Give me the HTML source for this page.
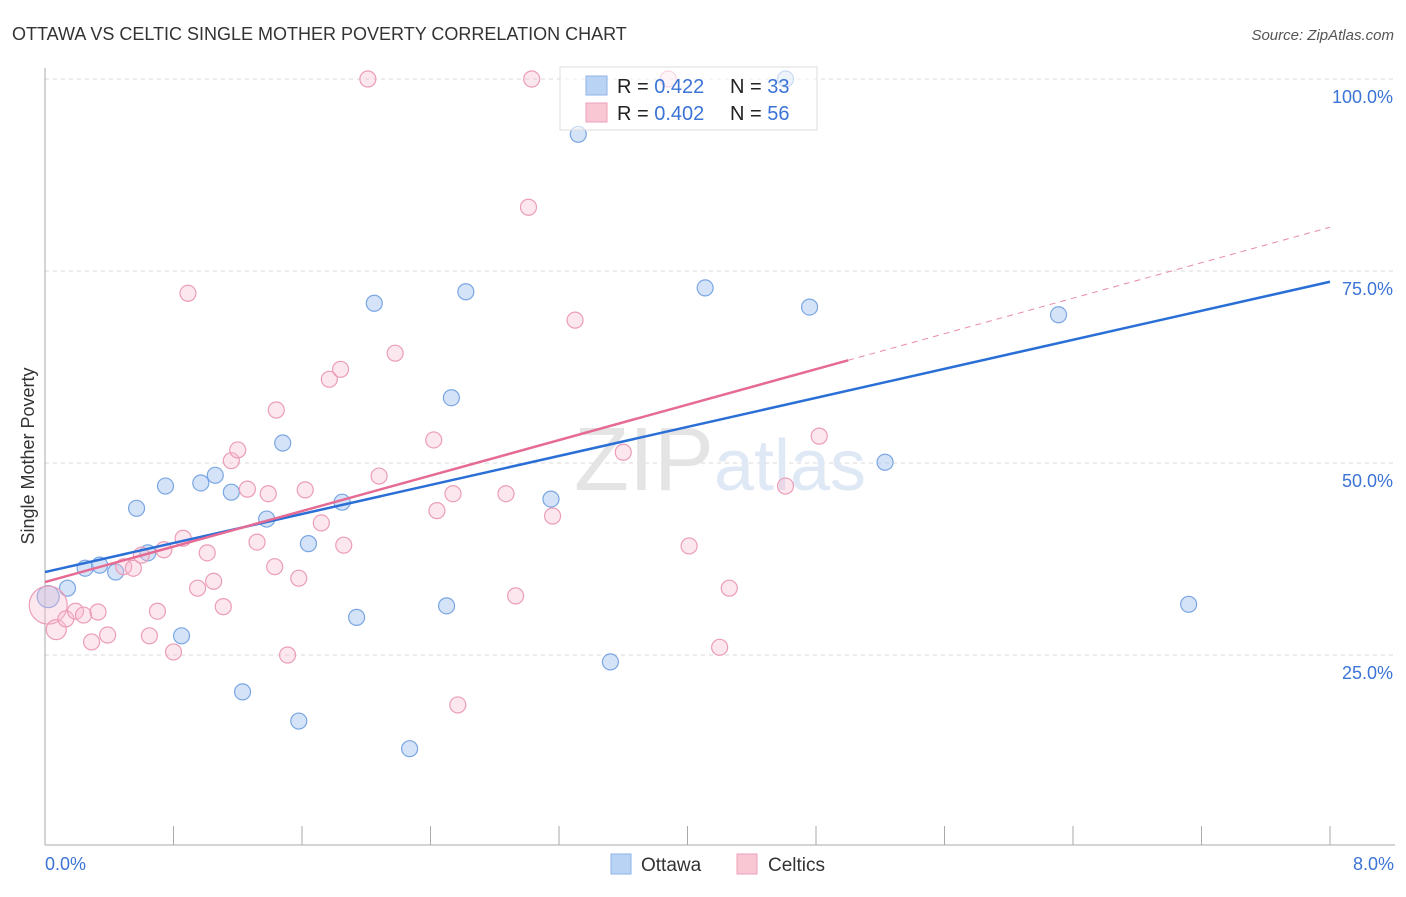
<!DOCTYPE html>
<html><head><meta charset="utf-8"><style>
body{margin:0;background:#fff;font-family:"Liberation Sans",sans-serif}
svg text{font-family:"Liberation Sans",sans-serif}
</style></head><body>
<svg width="1406" height="892" viewBox="0 0 1406 892">
<text x="12" y="40" font-size="18" fill="#333">OTTAWA VS CELTIC SINGLE MOTHER POVERTY CORRELATION CHART</text>
<text x="1394" y="40" font-size="15" fill="#555" font-style="italic" text-anchor="end">Source: ZipAtlas.com</text>
<g id="grid"></g>
<text x="720" y="490" font-size="90" fill="#e8e8e8" text-anchor="middle" font-family="Liberation Serif"><tspan fill="#e4e4e4">ZIP</tspan><tspan fill="#dfe8f5" font-family="Liberation Sans" font-size="72">atlas</tspan></text>
<g id="axes"></g>
<g id="pts"></g>
<g id="lines"></g>
<text transform="translate(34,456) rotate(-90)" font-size="18" fill="#333" text-anchor="middle">Single Mother Poverty</text>
<text x="45" y="870" font-size="18" fill="#3b74d6">0.0%</text>
<text x="1394" y="870" font-size="18" fill="#3b74d6" text-anchor="end">8.0%</text>
<g>
<rect x="560" y="67" width="257" height="63" fill="#fff" fill-opacity="0.6" stroke="#ddd"/>
<rect x="586" y="76" width="21" height="19" fill="#b9d3f5" stroke="#8fb3e6"/>
<rect x="586" y="103" width="21" height="19" fill="#f9c6d4" stroke="#eda0b8"/>
<text x="617" y="93" font-size="20" fill="#222">R = <tspan fill="#3b74d6">0.422</tspan></text>
<text x="730" y="93" font-size="20" fill="#222">N = <tspan fill="#3b74d6">33</tspan></text>
<text x="617" y="120" font-size="20" fill="#222">R = <tspan fill="#3b74d6">0.402</tspan></text>
<text x="730" y="120" font-size="20" fill="#222">N = <tspan fill="#3b74d6">56</tspan></text>
</g>
<g>
<rect x="611" y="854" width="20" height="20" fill="#b9d3f5" stroke="#8fb3e6"/>
<text x="641" y="871" font-size="19" fill="#333">Ottawa</text>
<rect x="737" y="854" width="20" height="20" fill="#f9c6d4" stroke="#eda0b8"/>
<text x="768" y="871" font-size="19" fill="#333">Celtics</text>
</g>
</svg>
<script>
const yTicks=[25,50,75,100];
const yTickLabels=["25.0%","50.0%","75.0%","100.0%"];
const xTickCount=10;
const ottawaX=[0.02,0.14,0.25,0.34,0.44,0.64,0.57,0.75,0.85,0.97,1.06,1.16,1.23,1.38,1.48,1.58,1.64,1.85,1.94,2.05,2.27,2.50,2.53,2.62,3.15,3.32,3.52,4.11,4.76,4.61,5.23,6.31,7.12];
const ottawaY=[32.6,33.7,36.3,36.7,35.8,38.3,44.1,47.0,27.5,47.4,48.4,46.2,20.2,42.7,52.6,16.4,39.5,44.9,29.9,70.8,12.8,31.4,58.5,72.3,45.3,92.8,24.1,72.8,70.3,100,50.1,69.3,31.6];
const celticsX=[0.02,0.07,0.13,0.19,0.24,0.29,0.33,0.39,0.49,0.55,0.60,0.65,0.70,0.74,0.80,0.86,0.89,0.95,1.01,1.05,1.11,1.16,1.20,1.26,1.32,1.39,1.43,1.44,1.51,1.58,1.62,1.72,1.77,1.84,1.86,2.01,2.08,2.18,2.42,2.44,2.54,2.57,2.87,2.93,3.01,3.03,3.16,3.30,3.60,3.88,4.01,4.20,4.26,4.61,4.82];
const celticsY=[31.5,28.3,29.7,30.7,30.2,26.7,30.6,27.6,36.5,36.3,38.0,27.5,30.7,38.7,25.4,40.2,72.1,33.7,38.3,34.6,31.3,50.3,51.7,46.6,39.7,46.0,36.5,56.9,25.0,35.0,46.5,42.2,60.9,62.2,39.3,100,48.3,64.3,53.0,43.8,46.0,18.5,46.0,32.7,83.3,100,43.1,68.6,51.4,100,39.2,26.0,33.7,47.0,53.5];
const ottawaTrend=[35.8,73.6];
const celticsTrend=[34.5,80.7];
const celticsSolidEnd=5.0;
const NS="http://www.w3.org/2000/svg";
const X0=45,X1=1330,Y0=847,Y100=79;
const sx=v=>X0+v/8*(X1-X0);
const sy=v=>Y0-v/100*(Y0-Y100);
function mk(tag,at,parent){const e=document.createElementNS(NS,tag);for(const k in at)e.setAttribute(k,at[k]);parent.appendChild(e);return e;}
const grid=document.getElementById('grid'),axes=document.getElementById('axes'),pts=document.getElementById('pts'),lines=document.getElementById('lines');
yTicks.forEach((t,i)=>{
 const l=mk('line',{x1:X0,x2:1395,y1:sy(t),y2:sy(t),stroke:'#d8d8d8','stroke-dasharray':'4,4'},grid);
 
 
 const tx=mk('text',{x:1393,y:sy(t)+24,'font-size':18,fill:'#3b74d6','text-anchor':'end'},grid);
 tx.textContent=yTickLabels[i];
 
 
});
let a=mk('line',{x1:X0,x2:X0,y1:68,y2:845,stroke:'#aaa'},axes);


a=mk('line',{x1:X0,x2:1395,y1:845,y2:845,stroke:'#aaa'},axes);


for(let k=1;k<=xTickCount;k++){
 const x=sx(k*0.8);
 const t=mk('line',{x1:x,x2:x,y1:826,y2:845,stroke:'#aaa'},axes);
 
 
}
ottawaX.forEach((v,i)=>{
 const c=mk('circle',{cx:sx(v),cy:sy(ottawaY[i]),r:i==0?11:8,fill:'rgba(170,200,242,0.5)',stroke:'#7aa6e3','stroke-width':1.2},pts);
 
 
});
celticsX.forEach((v,i)=>{
 const c=mk('circle',{cx:sx(v),cy:sy(celticsY[i]),r:i==0?19:(i==1?10:8),fill:'rgba(248,185,205,0.35)',stroke:'#eb9db7','stroke-width':1.2},pts);
 
 
});
const pAt=x=>celticsTrend[0]+(celticsTrend[1]-celticsTrend[0])*x/8;
let l=mk('line',{x1:sx(celticsSolidEnd),y1:sy(pAt(celticsSolidEnd)),x2:sx(8),y2:sy(celticsTrend[1]),stroke:'#e98aa9','stroke-width':1,'stroke-dasharray':'6,5'},lines);


l=mk('line',{x1:sx(0),y1:sy(ottawaTrend[0]),x2:sx(8),y2:sy(ottawaTrend[1]),stroke:'#2a6fd6','stroke-width':2.5},lines);


l=mk('line',{x1:sx(0),y1:sy(celticsTrend[0]),x2:sx(celticsSolidEnd),y2:sy(pAt(celticsSolidEnd)),stroke:'#e56b94','stroke-width':2.5},lines);


</script>
</body></html>
